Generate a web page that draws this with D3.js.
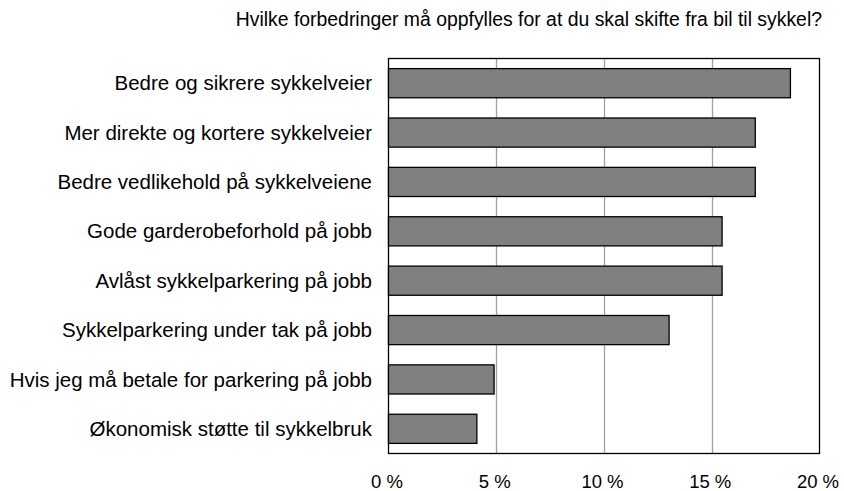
<!DOCTYPE html>
<html><head><meta charset="utf-8">
<script src="https://cdn.jsdelivr.net/npm/d3@7"></script>
<style>body{margin:0;background:#fff}svg{display:block}text{font-family:"Liberation Sans",Arial,sans-serif;fill:#000}</style>
</head><body>
<svg id="c" width="844" height="491"></svg>
<script>
const title = "Hvilke forbedringer må oppfylles for at du skal skifte fra bil til sykkel?";
const categories = [
  "Bedre og sikrere sykkelveier",
  "Mer direkte og kortere sykkelveier",
  "Bedre vedlikehold på sykkelveiene",
  "Gode garderobeforhold på jobb",
  "Avlåst sykkelparkering på jobb",
  "Sykkelparkering under tak på jobb",
  "Hvis jeg må betale for parkering på jobb",
  "Økonomisk støtte til sykkelbruk"
];
const values = [18.65, 17.02, 17.02, 15.48, 15.48, 13.02, 4.9, 4.1];
const xTicks = [0, 5, 10, 15, 20];

const svg = d3.select("#c");
const L = 388.5, R = 819.5, T = 58.5, B = 453.5;
const x = d3.scaleLinear().domain([0, 20]).range([L, R]);
const y = d3.scaleBand().domain(categories).range([T, B]).paddingInner(0.41).paddingOuter(0.205);

// gridlines
svg.append("g").selectAll("line").data(xTicks.slice(1, -1)).join("line")
  .attr("x1", d => Math.round(x(d)) + 0.5).attr("x2", d => Math.round(x(d)) + 0.5)
  .attr("y1", T).attr("y2", B).attr("stroke", "#a0a0a0").attr("stroke-width", 1.3);

// plot frame
svg.append("rect").attr("x", L).attr("y", T).attr("width", R - L).attr("height", B - T)
  .attr("fill", "none").attr("stroke", "#000").attr("stroke-width", 1.3);

// bars
svg.append("g").selectAll("rect").data(values).join("rect")
  .attr("x", x(0)).attr("y", (d, i) => y(categories[i]))
  .attr("width", d => x(d) - x(0)).attr("height", y.bandwidth())
  .attr("fill", "#808080").attr("stroke", "#000").attr("stroke-width", 1.3);

// y labels
svg.append("g").selectAll("text").data(categories).join("text")
  .attr("x", 372).attr("y", d => y(d) + y.bandwidth() / 2)
  .attr("dy", "0.35em").attr("text-anchor", "end").attr("font-size", 20.5)
  .text(d => d);

// x axis labels
svg.append("g").selectAll("text").data(xTicks).join("text")
  .attr("x", d => x(d) - 1.5).attr("y", 488)
  .attr("text-anchor", "middle").attr("font-size", 18.5)
  .text(d => d + " %");

// title
svg.append("text").attr("x", 822).attr("y", 19).attr("dy", "0.35em")
  .attr("text-anchor", "end").attr("font-size", 19.4).text(title);
</script>
</body></html>
